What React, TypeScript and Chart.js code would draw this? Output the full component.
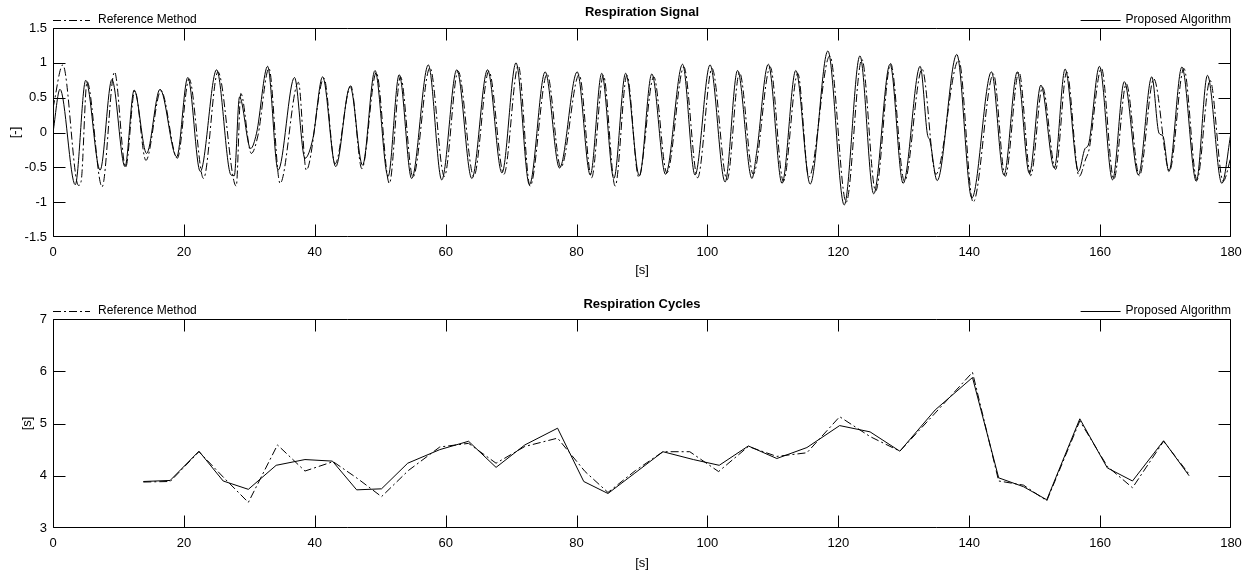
import React, { useEffect, useRef } from 'react';
import { Chart, registerables } from 'chart.js';

Chart.register(...registerables);

const FONT = '"Liberation Sans", Arial, Helvetica, sans-serif';

// Shared time axis
const timeTicks = [0, 20, 40, 60, 80, 100, 120, 140, 160, 180];
const signalTicks = [-1.5, -1, -0.5, 0, 0.5, 1, 1.5];
const cycleTicks = [3, 4, 5, 6, 7];

// Respiration signal, proposed algorithm (turning points and shoulders)
const proposedSignalT = [
  0, 1.07, 3.4, 5.0, 7.2, 9.0, 11.0, 12.4, 14.3, 16.35, 18.9, 20.6, 22.5, 25.0, 27.2, 27.7, 28.5,
  30.2, 31.1, 32.8, 34.4, 36.9, 38.5, 39.7, 41.2, 43.2, 45.4, 47.3, 49.2, 51.2, 52.9, 54.8, 57.35,
  59.4, 61.7, 64.0, 66.4, 68.6, 70.75, 72.8, 75.2, 77.4, 80.1, 82.1, 83.85, 85.7, 87.5, 89.6, 91.5,
  93.6, 96.2, 98.1, 100.4, 102.7, 104.6, 106.8, 107.5, 109.3, 111.4, 113.5, 115.7, 118.4, 120.9,
  123.3, 125.4, 127.9, 129.9, 132.5, 133.6, 134.0, 135.1, 138.1, 140.4, 143.4, 145.3, 147.35, 149.2,
  150.95, 153.0, 154.65, 156.7, 157.7, 158.2, 159.9, 161.9, 163.7, 165.85, 167.9, 169.0, 169.6,
  170.5, 172.5, 174.7, 176.4, 178.6, 180,
];
const proposedSignalV = [
  0.0, 0.62, -0.75, 0.75, -0.54, 0.76, -0.49, 0.61, -0.3, 0.62, -0.35, 0.79, -0.56, 0.9, -0.61, -0.62, 0.51,
  -0.23, -0.01, 0.95, -0.54, 0.79, -0.37, -0.09, 0.8, -0.49, 0.66, -0.47, 0.89, -0.63, 0.83, -0.66, 0.97,
  -0.68, 0.9, -0.66, 0.9, -0.58, 1.0, -0.75, 0.87, -0.51, 0.87, -0.61, 0.85, -0.66, 0.85, -0.62, 0.84,
  -0.6, 0.98, -0.61, 0.97, -0.71, 0.89, -0.66, -0.3, 0.98, -0.73, 0.89, -0.74, 1.17, -1.04,
  1.1, -0.88, 0.98, -0.73, 0.95, -0.02, -0.12, -0.69, 1.12, -0.94, 0.87, -0.61, 0.87, -0.59,
  0.68, -0.51, 0.91, -0.56, -0.23, -0.18, 0.95, -0.68, 0.73, -0.61, 0.8, -0.01, -0.05,
  -0.56, 0.94, -0.7, 0.82, -0.73, 0.0,
];

// Respiration signal, reference method
const referenceSignalT = [
  0, 1.5, 3.9, 4.3, 5.2, 7.5, 9.4, 11.1, 12.5, 14.2, 16.5, 19.0, 20.8, 23.0, 25.2, 28.0, 28.7,
  30.3, 31.3, 33.0, 34.7, 37.5, 38.7, 41.4, 43.1, 45.5, 47.2, 49.4, 51.4, 53.1, 55.0, 57.6,
  59.8, 61.9, 64.3, 66.6, 68.9, 71.1, 72.9, 75.5, 77.6, 80.4, 82.3, 84.1, 85.9, 87.7, 89.5, 91.8,
  93.8, 96.4, 98.5, 100.7, 103.0, 104.9, 107.0, 109.6, 111.6, 113.8, 115.5, 118.7, 121.2,
  123.6, 125.7, 128.0, 130.1, 132.8, 134.9, 138.4, 140.6, 143.7, 145.5, 147.6, 149.4,
  151.2, 153.2, 154.9, 156.8, 157.8, 158.3, 160.2, 162.1, 164.0, 166.0, 168.2,
  170.6, 172.8, 174.8, 176.8, 178.8, 180,
];
const referenceSignalV = [
  0.35, 0.97, -0.76, -0.7, 0.73, -0.78, 0.87, -0.5, 0.6, -0.4, 0.6, -0.37, 0.77, -0.66, 0.87, -0.77, 0.56,
  -0.3, -0.05, 0.92, -0.73, 0.72, -0.54, 0.78, -0.45, 0.67, -0.52, 0.86, -0.73, 0.8, -0.64, 0.93,
  -0.63, 0.88, -0.63, 0.88, -0.6, 0.96, -0.77, 0.84, -0.5, 0.83, -0.65, 0.82, -0.77, 0.82, -0.64, 0.8,
  -0.58, 0.94, -0.65, 0.92, -0.68, 0.86, -0.6, 0.94, -0.7, 0.85, -0.64, 1.1, -1.0,
  1.05, -0.84, 0.99, -0.7, 0.91, -0.6, 1.04, -1.0, 0.84, -0.63, 0.87, -0.62,
  0.65, -0.53, 0.87, -0.63, -0.38, -0.25, 0.92, -0.67, 0.7, -0.62, 0.77,
  -0.55, 0.92, -0.68, 0.75, -0.7, -0.35,
];

// Respiration cycle lengths, proposed algorithm
const proposedCycleT = [
  13.8, 17.9, 22.3, 26.0, 29.85, 34.1, 38.5, 42.7, 46.4, 50.2, 54.2, 59.1, 63.5, 67.7, 72.1, 77.1,
  81.1, 84.8, 88.9, 93.2, 97.85, 101.8, 106.25, 110.6, 115.2, 120.2, 124.85, 129.4, 134.8, 140.5,
  144.5, 148.3, 151.85, 156.9, 161.1, 164.95, 169.7, 173.6,
];
const proposedCycleV = [
  3.89, 3.91, 4.47, 3.9, 3.74, 4.2, 4.31, 4.28, 3.73, 3.75, 4.24, 4.5, 4.66, 4.16, 4.59, 4.91,
  3.89, 3.66, 4.05, 4.46, 4.31, 4.2, 4.57, 4.33, 4.54, 4.96, 4.84, 4.47, 5.26, 5.88,
  3.96, 3.79, 3.54, 5.09, 4.15, 3.9, 4.67, 4.0,
];

// Respiration cycle lengths, reference method
const referenceCycleT = [
  13.8, 17.9, 22.3, 26.2, 29.85, 34.3, 38.5, 42.8, 46.5, 50.2, 54.3, 59.1, 63.5, 67.7, 72.1, 77.1,
  81.3, 84.8, 89.0, 93.2, 97.3, 101.7, 106.25, 110.6, 115.2, 120.2, 124.85, 129.4, 134.8, 140.5,
  144.5, 148.3, 151.85, 156.9, 161.1, 164.95, 169.7, 173.6,
];
const referenceCycleV = [
  3.88, 3.89, 4.46, 3.95, 3.49, 4.59, 4.09, 4.27, 3.95, 3.6, 4.1, 4.55, 4.62, 4.24, 4.56, 4.72,
  4.08, 3.68, 4.1, 4.46, 4.46, 4.08, 4.56, 4.37, 4.44, 5.13, 4.75, 4.47, 5.2, 5.98,
  3.9, 3.82, 3.52, 5.05, 4.18, 3.77, 4.66, 4.03,
];

const DASH_DOT = [8, 3, 2, 3];
const TICK_LEN = 12;

const toPoints = (t: number[], v: number[]) => t.map((x, i) => ({ x, y: v[i] }));

type FrameOpts = {
  title: string;
  titleY: number;
  legendY: number;
  yTitle: string;
  yTitleX: number;
  xTitleY: number;
  yTicks: number[];
};

// Draws the boxed frame with inward ticks on all sides, the title, the split legend and axis labels
const framePlugin = {
  id: 'frame',
  afterDraw(chart: any, _args: any, opts: FrameOpts) {
    const { ctx, chartArea } = chart;
    const { left, right, top, bottom } = chartArea;
    const xs = chart.scales.x;
    const ys = chart.scales.y;
    ctx.save();
    ctx.strokeStyle = '#000';
    ctx.lineWidth = 1;
    ctx.setLineDash([]);
    ctx.beginPath();
    const L = Math.round(left) + 0.5;
    const R = Math.round(right) - 0.5;
    const T = Math.round(top) + 0.5;
    const B = Math.round(bottom) - 0.5;
    const clampX = (p: number) => Math.min(R, Math.max(L, p));
    const clampY = (p: number) => Math.min(B, Math.max(T, p));
    ctx.rect(L, T, R - L, B - T);
    timeTicks.forEach((v) => {
      const px = clampX(Math.round(xs.getPixelForValue(v)) + 0.5);
      ctx.moveTo(px, B);
      ctx.lineTo(px, B - TICK_LEN);
      ctx.moveTo(px, T);
      ctx.lineTo(px, T + TICK_LEN);
    });
    opts.yTicks.forEach((v) => {
      const py = clampY(Math.round(ys.getPixelForValue(v)) + 0.5);
      ctx.moveTo(L, py);
      ctx.lineTo(L + TICK_LEN, py);
      ctx.moveTo(R, py);
      ctx.lineTo(R - TICK_LEN, py);
    });
    ctx.stroke();

    ctx.fillStyle = '#000';
    ctx.textBaseline = 'middle';
    // title
    ctx.font = `bold 13px ${FONT}`;
    ctx.textAlign = 'center';
    ctx.fillText(opts.title, (left + right) / 2, opts.titleY);

    // legend: reference method on the left, proposed algorithm on the right
    ctx.font = `12px ${FONT}`;
    ctx.beginPath();
    ctx.setLineDash(DASH_DOT);
    ctx.moveTo(left, opts.legendY + 0.5);
    ctx.lineTo(left + 37, opts.legendY + 0.5);
    ctx.stroke();
    ctx.setLineDash([]);
    ctx.textAlign = 'left';
    ctx.fillText('Reference Method', left + 45, opts.legendY);

    ctx.textAlign = 'right';
    const label = 'Proposed Algorithm';
    const w = ctx.measureText(label).width;
    ctx.fillText(label, right, opts.legendY);
    ctx.beginPath();
    ctx.moveTo(right - w - 45, opts.legendY + 0.5);
    ctx.lineTo(right - w - 5, opts.legendY + 0.5);
    ctx.stroke();

    // axis titles
    ctx.font = `13px ${FONT}`;
    ctx.textAlign = 'center';
    ctx.fillText('[s]', (left + right) / 2, opts.xTitleY);
    ctx.translate(opts.yTitleX, (top + bottom) / 2);
    ctx.rotate(-Math.PI / 2);
    ctx.fillText(opts.yTitle, 0, 0);
    ctx.restore();
  },
};

type PanelProps = {
  height: number;
  padTop: number;
  xAxisHeight: number;
  yMin: number;
  yMax: number;
  yStep: number;
  smooth: boolean;
  proposed: { x: number; y: number }[];
  reference: { x: number; y: number }[];
  frame: FrameOpts;
};

function Panel(props: PanelProps) {
  const ref = useRef<HTMLCanvasElement | null>(null);
  useEffect(() => {
    if (!ref.current) return;
    const lineCommon = {
      borderColor: '#000',
      borderWidth: 1,
      pointRadius: 0,
      fill: false,
      tension: props.smooth ? 0.4 : 0,
      cubicInterpolationMode: props.smooth ? 'monotone' : 'default',
    };
    const chart = new Chart(ref.current, {
      type: 'line',
      data: {
        datasets: [
          { ...lineCommon, label: 'Reference Method', data: props.reference, borderDash: DASH_DOT },
          { ...lineCommon, label: 'Proposed Algorithm', data: props.proposed },
        ] as any,
      },
      options: {
        animation: false,
        responsive: false,
        devicePixelRatio: 1,
        layout: { padding: { top: props.padTop, right: 20, left: 0, bottom: 0 } },
        plugins: {
          legend: { display: false },
          title: { display: false },
          tooltip: { enabled: false },
          frame: props.frame,
        } as any,
        scales: {
          x: {
            type: 'linear',
            min: 0,
            max: 180,
            grid: { display: false, drawTicks: false },
            border: { display: false },
            ticks: { stepSize: 20, color: '#000', font: { family: FONT, size: 13 }, padding: 8, maxRotation: 0 },
            afterFit: (s: any) => {
              s.height = props.xAxisHeight;
            },
          },
          y: {
            type: 'linear',
            min: props.yMin,
            max: props.yMax,
            grid: { display: false, drawTicks: false },
            border: { display: false },
            ticks: {
              stepSize: props.yStep,
              color: '#000',
              font: { family: FONT, size: 13 },
              padding: 6,
              callback: (v: any) => String(Number(v)),
            },
            afterFit: (s: any) => {
              s.width = 53;
            },
          },
        },
      } as any,
      plugins: [framePlugin],
    });
    return () => chart.destroy();
  }, []);
  return <canvas ref={ref} width={1251} height={props.height} style={{ display: 'block' }} />;
}

export default function App() {
  return (
    <div style={{ position: 'absolute', left: 0, top: 0, width: 1251, height: 574, background: '#fff' }}>
      <div style={{ position: 'absolute', left: 0, top: 0 }}>
        <Panel
          height={290}
          padTop={28}
          xAxisHeight={53}
          yMin={-1.5}
          yMax={1.5}
          yStep={0.5}
          smooth
          proposed={toPoints(proposedSignalT, proposedSignalV)}
          reference={toPoints(referenceSignalT, referenceSignalV)}
          frame={{
            title: 'Respiration Signal',
            titleY: 12,
            legendY: 20,
            yTitle: '[-]',
            yTitleX: 15,
            xTitleY: 270,
            yTicks: signalTicks,
          }}
        />
      </div>
      <div style={{ position: 'absolute', left: 0, top: 290 }}>
        <Panel
          height={284}
          padTop={29}
          xAxisHeight={46}
          yMin={3}
          yMax={7}
          yStep={1}
          smooth={false}
          proposed={toPoints(proposedCycleT, proposedCycleV)}
          reference={toPoints(referenceCycleT, referenceCycleV)}
          frame={{
            title: 'Respiration Cycles',
            titleY: 14,
            legendY: 21,
            yTitle: '[s]',
            yTitleX: 27,
            xTitleY: 273,
            yTicks: cycleTicks,
          }}
        />
      </div>
    </div>
  );
}
